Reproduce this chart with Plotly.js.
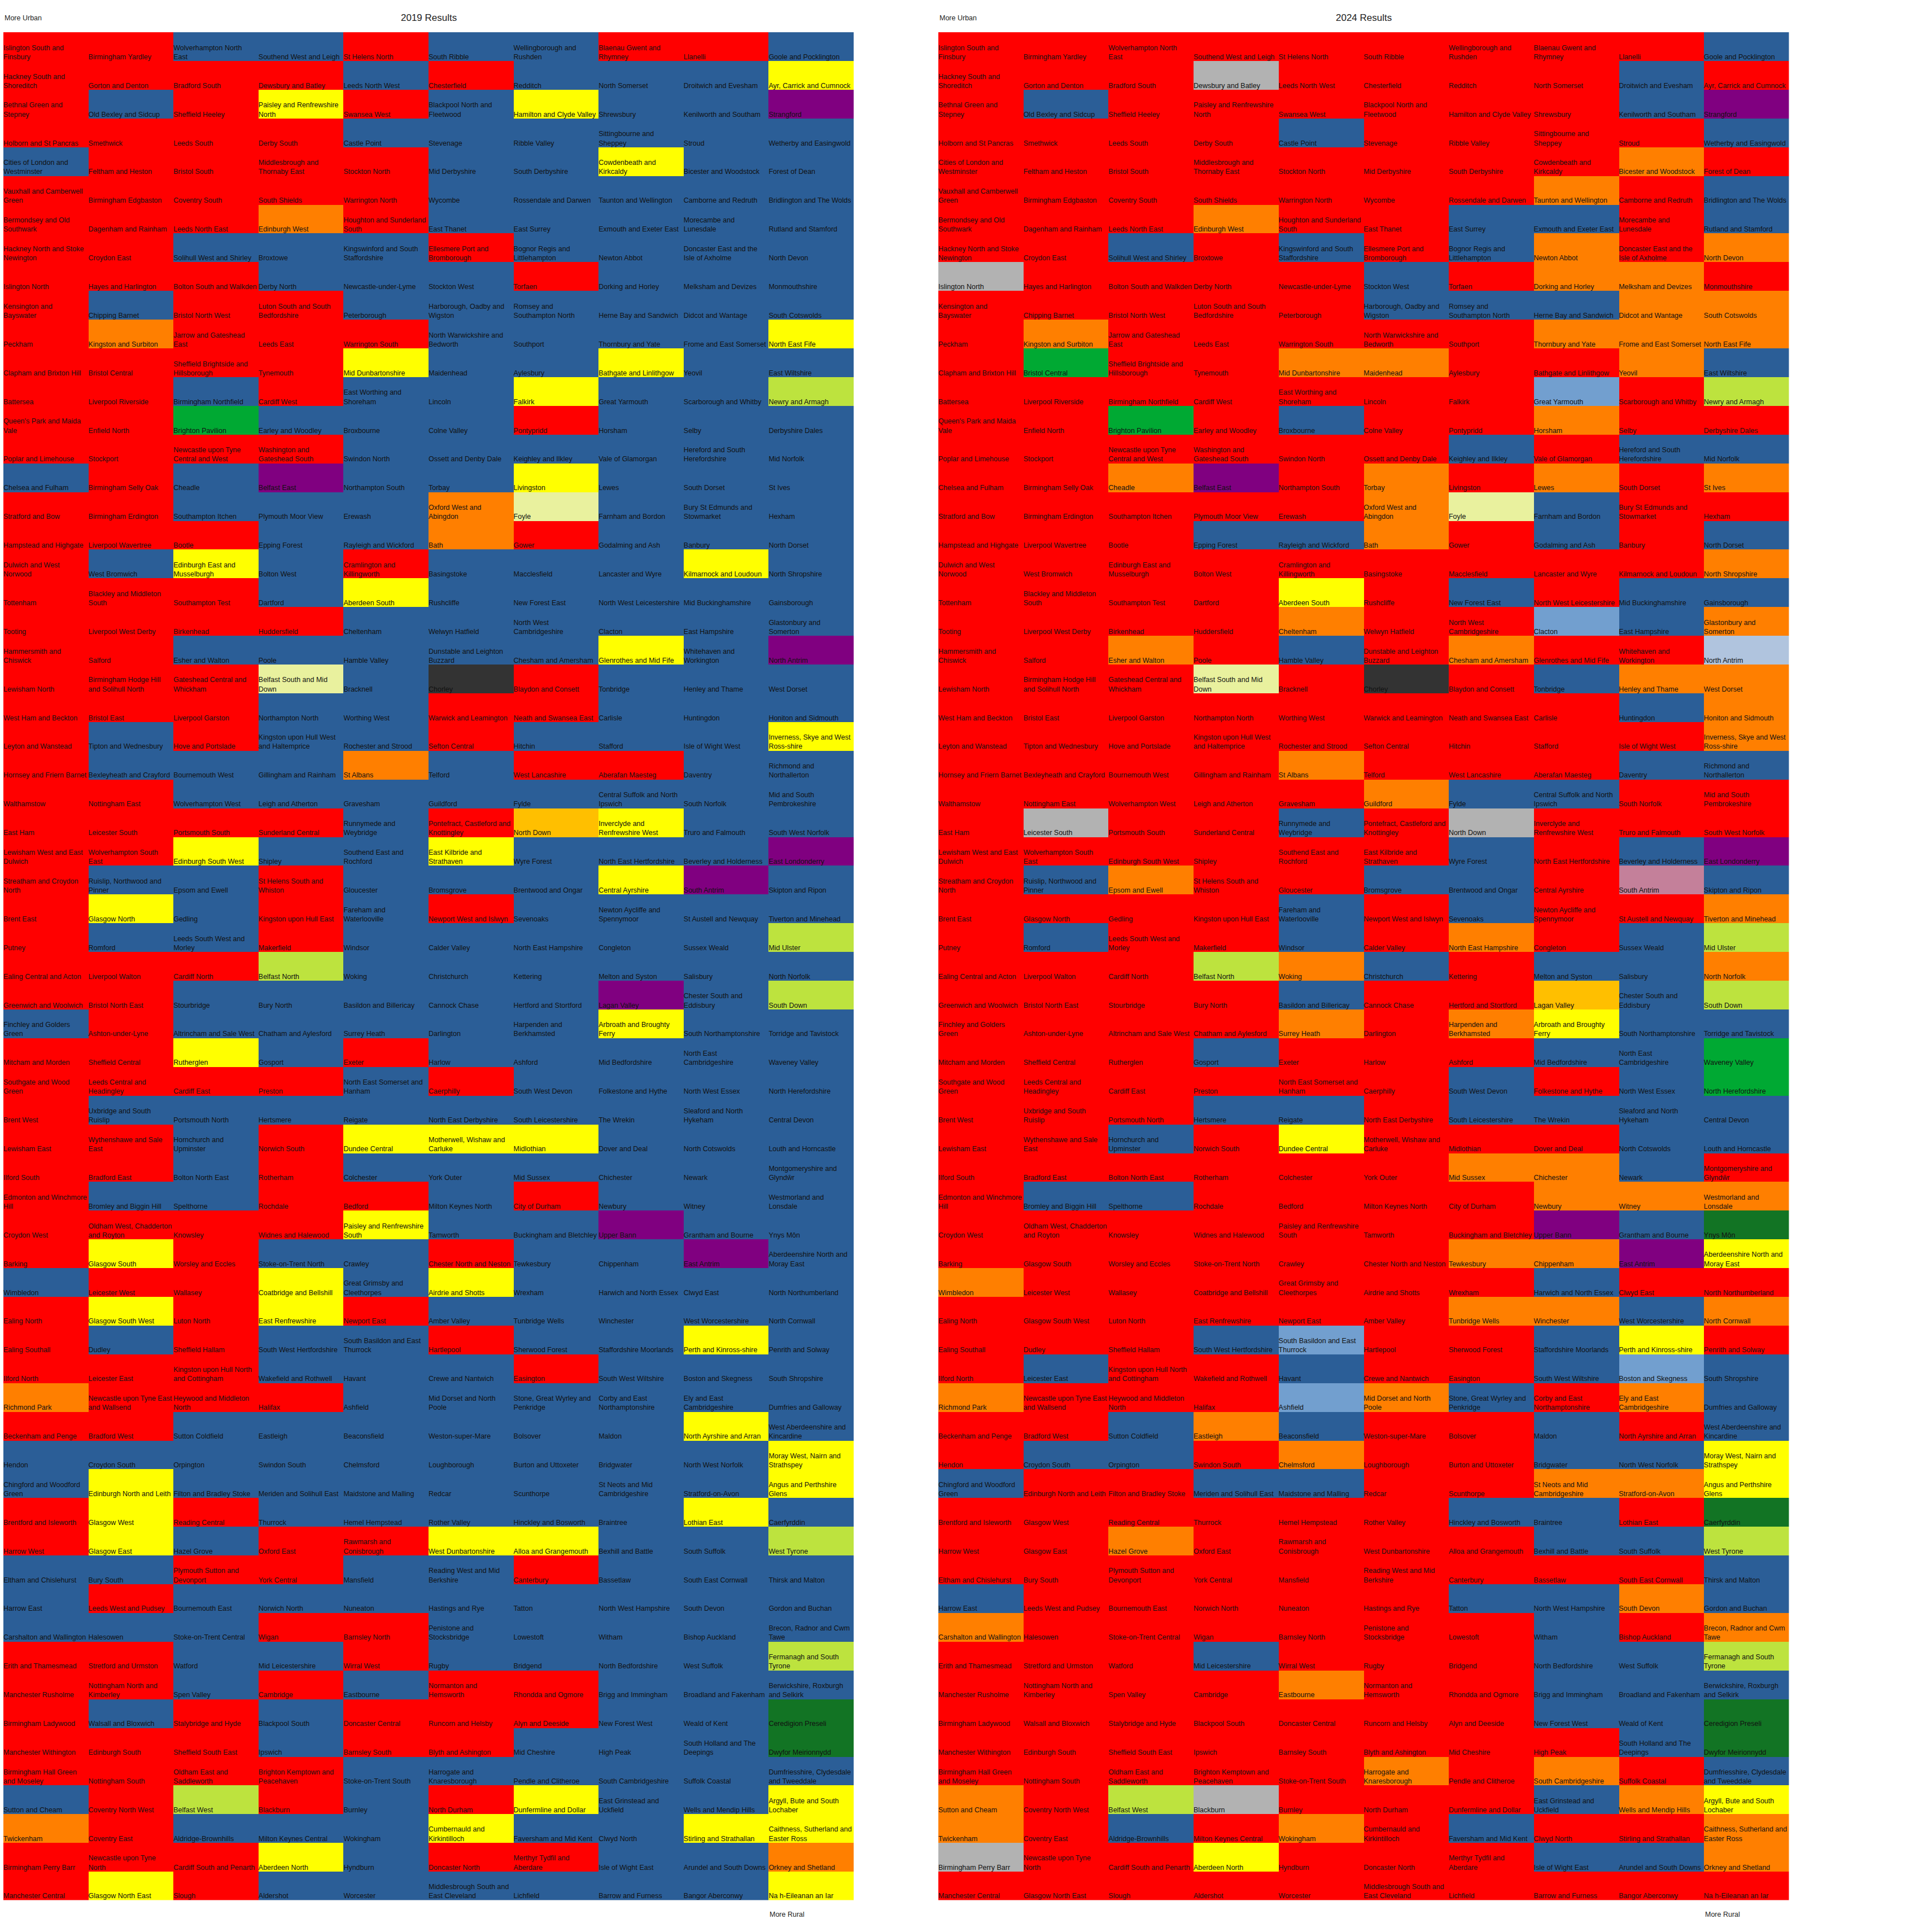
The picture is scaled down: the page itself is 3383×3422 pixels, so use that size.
<!DOCTYPE html>
<html>
<head>
<meta charset="utf-8">
<script src="https://cdn.plot.ly/plotly-3.0.1.min.js"></script>
<style>body{margin:0;background:#fff}</style>
</head>
<body>
<div id="chart"></div>
<script>
// constituencies, row by row, 10 to a row (more urban top left -> more rural bottom right)
const constituencies = [
  "Islington South and Finsbury", "Birmingham Yardley", "Wolverhampton North East", "Southend West and Leigh", "St Helens North", "South Ribble", "Wellingborough and Rushden", "Blaenau Gwent and Rhymney", "Llanelli", "Goole and Pocklington",
  "Hackney South and Shoreditch", "Gorton and Denton", "Bradford South", "Dewsbury and Batley", "Leeds North West", "Chesterfield", "Redditch", "North Somerset", "Droitwich and Evesham", "Ayr, Carrick and Cumnock",
  "Bethnal Green and Stepney", "Old Bexley and Sidcup", "Sheffield Heeley", "Paisley and Renfrewshire North", "Swansea West", "Blackpool North and Fleetwood", "Hamilton and Clyde Valley", "Shrewsbury", "Kenilworth and Southam", "Strangford",
  "Holborn and St Pancras", "Smethwick", "Leeds South", "Derby South", "Castle Point", "Stevenage", "Ribble Valley", "Sittingbourne and Sheppey", "Stroud", "Wetherby and Easingwold",
  "Cities of London and Westminster", "Feltham and Heston", "Bristol South", "Middlesbrough and Thornaby East", "Stockton North", "Mid Derbyshire", "South Derbyshire", "Cowdenbeath and Kirkcaldy", "Bicester and Woodstock", "Forest of Dean",
  "Vauxhall and Camberwell Green", "Birmingham Edgbaston", "Coventry South", "South Shields", "Warrington North", "Wycombe", "Rossendale and Darwen", "Taunton and Wellington", "Camborne and Redruth", "Bridlington and The Wolds",
  "Bermondsey and Old Southwark", "Dagenham and Rainham", "Leeds North East", "Edinburgh West", "Houghton and Sunderland South", "East Thanet", "East Surrey", "Exmouth and Exeter East", "Morecambe and Lunesdale", "Rutland and Stamford",
  "Hackney North and Stoke Newington", "Croydon East", "Solihull West and Shirley", "Broxtowe", "Kingswinford and South Staffordshire", "Ellesmere Port and Bromborough", "Bognor Regis and Littlehampton", "Newton Abbot", "Doncaster East and the Isle of Axholme", "North Devon",
  "Islington North", "Hayes and Harlington", "Bolton South and Walkden", "Derby North", "Newcastle-under-Lyme", "Stockton West", "Torfaen", "Dorking and Horley", "Melksham and Devizes", "Monmouthshire",
  "Kensington and Bayswater", "Chipping Barnet", "Bristol North West", "Luton South and South Bedfordshire", "Peterborough", "Harborough, Oadby and Wigston", "Romsey and Southampton North", "Herne Bay and Sandwich", "Didcot and Wantage", "South Cotswolds",
  "Peckham", "Kingston and Surbiton", "Jarrow and Gateshead East", "Leeds East", "Warrington South", "North Warwickshire and Bedworth", "Southport", "Thornbury and Yate", "Frome and East Somerset", "North East Fife",
  "Clapham and Brixton Hill", "Bristol Central", "Sheffield Brightside and Hillsborough", "Tynemouth", "Mid Dunbartonshire", "Maidenhead", "Aylesbury", "Bathgate and Linlithgow", "Yeovil", "East Wiltshire",
  "Battersea", "Liverpool Riverside", "Birmingham Northfield", "Cardiff West", "East Worthing and Shoreham", "Lincoln", "Falkirk", "Great Yarmouth", "Scarborough and Whitby", "Newry and Armagh",
  "Queen's Park and Maida Vale", "Enfield North", "Brighton Pavilion", "Earley and Woodley", "Broxbourne", "Colne Valley", "Pontypridd", "Horsham", "Selby", "Derbyshire Dales",
  "Poplar and Limehouse", "Stockport", "Newcastle upon Tyne Central and West", "Washington and Gateshead South", "Swindon North", "Ossett and Denby Dale", "Keighley and Ilkley", "Vale of Glamorgan", "Hereford and South Herefordshire", "Mid Norfolk",
  "Chelsea and Fulham", "Birmingham Selly Oak", "Cheadle", "Belfast East", "Northampton South", "Torbay", "Livingston", "Lewes", "South Dorset", "St Ives",
  "Stratford and Bow", "Birmingham Erdington", "Southampton Itchen", "Plymouth Moor View", "Erewash", "Oxford West and Abingdon", "Foyle", "Farnham and Bordon", "Bury St Edmunds and Stowmarket", "Hexham",
  "Hampstead and Highgate", "Liverpool Wavertree", "Bootle", "Epping Forest", "Rayleigh and Wickford", "Bath", "Gower", "Godalming and Ash", "Banbury", "North Dorset",
  "Dulwich and West Norwood", "West Bromwich", "Edinburgh East and Musselburgh", "Bolton West", "Cramlington and Killingworth", "Basingstoke", "Macclesfield", "Lancaster and Wyre", "Kilmarnock and Loudoun", "North Shropshire",
  "Tottenham", "Blackley and Middleton South", "Southampton Test", "Dartford", "Aberdeen South", "Rushcliffe", "New Forest East", "North West Leicestershire", "Mid Buckinghamshire", "Gainsborough",
  "Tooting", "Liverpool West Derby", "Birkenhead", "Huddersfield", "Cheltenham", "Welwyn Hatfield", "North West Cambridgeshire", "Clacton", "East Hampshire", "Glastonbury and Somerton",
  "Hammersmith and Chiswick", "Salford", "Esher and Walton", "Poole", "Hamble Valley", "Dunstable and Leighton Buzzard", "Chesham and Amersham", "Glenrothes and Mid Fife", "Whitehaven and Workington", "North Antrim",
  "Lewisham North", "Birmingham Hodge Hill and Solihull North", "Gateshead Central and Whickham", "Belfast South and Mid Down", "Bracknell", "Chorley", "Blaydon and Consett", "Tonbridge", "Henley and Thame", "West Dorset",
  "West Ham and Beckton", "Bristol East", "Liverpool Garston", "Northampton North", "Worthing West", "Warwick and Leamington", "Neath and Swansea East", "Carlisle", "Huntingdon", "Honiton and Sidmouth",
  "Leyton and Wanstead", "Tipton and Wednesbury", "Hove and Portslade", "Kingston upon Hull West and Haltemprice", "Rochester and Strood", "Sefton Central", "Hitchin", "Stafford", "Isle of Wight West", "Inverness, Skye and West Ross-shire",
  "Hornsey and Friern Barnet", "Bexleyheath and Crayford", "Bournemouth West", "Gillingham and Rainham", "St Albans", "Telford", "West Lancashire", "Aberafan Maesteg", "Daventry", "Richmond and Northallerton",
  "Walthamstow", "Nottingham East", "Wolverhampton West", "Leigh and Atherton", "Gravesham", "Guildford", "Fylde", "Central Suffolk and North Ipswich", "South Norfolk", "Mid and South Pembrokeshire",
  "East Ham", "Leicester South", "Portsmouth South", "Sunderland Central", "Runnymede and Weybridge", "Pontefract, Castleford and Knottingley", "North Down", "Inverclyde and Renfrewshire West", "Truro and Falmouth", "South West Norfolk",
  "Lewisham West and East Dulwich", "Wolverhampton South East", "Edinburgh South West", "Shipley", "Southend East and Rochford", "East Kilbride and Strathaven", "Wyre Forest", "North East Hertfordshire", "Beverley and Holderness", "East Londonderry",
  "Streatham and Croydon North", "Ruislip, Northwood and Pinner", "Epsom and Ewell", "St Helens South and Whiston", "Gloucester", "Bromsgrove", "Brentwood and Ongar", "Central Ayrshire", "South Antrim", "Skipton and Ripon",
  "Brent East", "Glasgow North", "Gedling", "Kingston upon Hull East", "Fareham and Waterlooville", "Newport West and Islwyn", "Sevenoaks", "Newton Aycliffe and Spennymoor", "St Austell and Newquay", "Tiverton and Minehead",
  "Putney", "Romford", "Leeds South West and Morley", "Makerfield", "Windsor", "Calder Valley", "North East Hampshire", "Congleton", "Sussex Weald", "Mid Ulster",
  "Ealing Central and Acton", "Liverpool Walton", "Cardiff North", "Belfast North", "Woking", "Christchurch", "Kettering", "Melton and Syston", "Salisbury", "North Norfolk",
  "Greenwich and Woolwich", "Bristol North East", "Stourbridge", "Bury North", "Basildon and Billericay", "Cannock Chase", "Hertford and Stortford", "Lagan Valley", "Chester South and Eddisbury", "South Down",
  "Finchley and Golders Green", "Ashton-under-Lyne", "Altrincham and Sale West", "Chatham and Aylesford", "Surrey Heath", "Darlington", "Harpenden and Berkhamsted", "Arbroath and Broughty Ferry", "South Northamptonshire", "Torridge and Tavistock",
  "Mitcham and Morden", "Sheffield Central", "Rutherglen", "Gosport", "Exeter", "Harlow", "Ashford", "Mid Bedfordshire", "North East Cambridgeshire", "Waveney Valley",
  "Southgate and Wood Green", "Leeds Central and Headingley", "Cardiff East", "Preston", "North East Somerset and Hanham", "Caerphilly", "South West Devon", "Folkestone and Hythe", "North West Essex", "North Herefordshire",
  "Brent West", "Uxbridge and South Ruislip", "Portsmouth North", "Hertsmere", "Reigate", "North East Derbyshire", "South Leicestershire", "The Wrekin", "Sleaford and North Hykeham", "Central Devon",
  "Lewisham East", "Wythenshawe and Sale East", "Hornchurch and Upminster", "Norwich South", "Dundee Central", "Motherwell, Wishaw and Carluke", "Midlothian", "Dover and Deal", "North Cotswolds", "Louth and Horncastle",
  "Ilford South", "Bradford East", "Bolton North East", "Rotherham", "Colchester", "York Outer", "Mid Sussex", "Chichester", "Newark", "Montgomeryshire and Glyndŵr",
  "Edmonton and Winchmore Hill", "Bromley and Biggin Hill", "Spelthorne", "Rochdale", "Bedford", "Milton Keynes North", "City of Durham", "Newbury", "Witney", "Westmorland and Lonsdale",
  "Croydon West", "Oldham West, Chadderton and Royton", "Knowsley", "Widnes and Halewood", "Paisley and Renfrewshire South", "Tamworth", "Buckingham and Bletchley", "Upper Bann", "Grantham and Bourne", "Ynys Môn",
  "Barking", "Glasgow South", "Worsley and Eccles", "Stoke-on-Trent North", "Crawley", "Chester North and Neston", "Tewkesbury", "Chippenham", "East Antrim", "Aberdeenshire North and Moray East",
  "Wimbledon", "Leicester West", "Wallasey", "Coatbridge and Bellshill", "Great Grimsby and Cleethorpes", "Airdrie and Shotts", "Wrexham", "Harwich and North Essex", "Clwyd East", "North Northumberland",
  "Ealing North", "Glasgow South West", "Luton North", "East Renfrewshire", "Newport East", "Amber Valley", "Tunbridge Wells", "Winchester", "West Worcestershire", "North Cornwall",
  "Ealing Southall", "Dudley", "Sheffield Hallam", "South West Hertfordshire", "South Basildon and East Thurrock", "Hartlepool", "Sherwood Forest", "Staffordshire Moorlands", "Perth and Kinross-shire", "Penrith and Solway",
  "Ilford North", "Leicester East", "Kingston upon Hull North and Cottingham", "Wakefield and Rothwell", "Havant", "Crewe and Nantwich", "Easington", "South West Wiltshire", "Boston and Skegness", "South Shropshire",
  "Richmond Park", "Newcastle upon Tyne East and Wallsend", "Heywood and Middleton North", "Halifax", "Ashfield", "Mid Dorset and North Poole", "Stone, Great Wyrley and Penkridge", "Corby and East Northamptonshire", "Ely and East Cambridgeshire", "Dumfries and Galloway",
  "Beckenham and Penge", "Bradford West", "Sutton Coldfield", "Eastleigh", "Beaconsfield", "Weston-super-Mare", "Bolsover", "Maldon", "North Ayrshire and Arran", "West Aberdeenshire and Kincardine",
  "Hendon", "Croydon South", "Orpington", "Swindon South", "Chelmsford", "Loughborough", "Burton and Uttoxeter", "Bridgwater", "North West Norfolk", "Moray West, Nairn and Strathspey",
  "Chingford and Woodford Green", "Edinburgh North and Leith", "Filton and Bradley Stoke", "Meriden and Solihull East", "Maidstone and Malling", "Redcar", "Scunthorpe", "St Neots and Mid Cambridgeshire", "Stratford-on-Avon", "Angus and Perthshire Glens",
  "Brentford and Isleworth", "Glasgow West", "Reading Central", "Thurrock", "Hemel Hempstead", "Rother Valley", "Hinckley and Bosworth", "Braintree", "Lothian East", "Caerfyrddin",
  "Harrow West", "Glasgow East", "Hazel Grove", "Oxford East", "Rawmarsh and Conisbrough", "West Dunbartonshire", "Alloa and Grangemouth", "Bexhill and Battle", "South Suffolk", "West Tyrone",
  "Eltham and Chislehurst", "Bury South", "Plymouth Sutton and Devonport", "York Central", "Mansfield", "Reading West and Mid Berkshire", "Canterbury", "Bassetlaw", "South East Cornwall", "Thirsk and Malton",
  "Harrow East", "Leeds West and Pudsey", "Bournemouth East", "Norwich North", "Nuneaton", "Hastings and Rye", "Tatton", "North West Hampshire", "South Devon", "Gordon and Buchan",
  "Carshalton and Wallington", "Halesowen", "Stoke-on-Trent Central", "Wigan", "Barnsley North", "Penistone and Stocksbridge", "Lowestoft", "Witham", "Bishop Auckland", "Brecon, Radnor and Cwm Tawe",
  "Erith and Thamesmead", "Stretford and Urmston", "Watford", "Mid Leicestershire", "Wirral West", "Rugby", "Bridgend", "North Bedfordshire", "West Suffolk", "Fermanagh and South Tyrone",
  "Manchester Rusholme", "Nottingham North and Kimberley", "Spen Valley", "Cambridge", "Eastbourne", "Normanton and Hemsworth", "Rhondda and Ogmore", "Brigg and Immingham", "Broadland and Fakenham", "Berwickshire, Roxburgh and Selkirk",
  "Birmingham Ladywood", "Walsall and Bloxwich", "Stalybridge and Hyde", "Blackpool South", "Doncaster Central", "Runcorn and Helsby", "Alyn and Deeside", "New Forest West", "Weald of Kent", "Ceredigion Preseli",
  "Manchester Withington", "Edinburgh South", "Sheffield South East", "Ipswich", "Barnsley South", "Blyth and Ashington", "Mid Cheshire", "High Peak", "South Holland and The Deepings", "Dwyfor Meirionnydd",
  "Birmingham Hall Green and Moseley", "Nottingham South", "Oldham East and Saddleworth", "Brighton Kemptown and Peacehaven", "Stoke-on-Trent South", "Harrogate and Knaresborough", "Pendle and Clitheroe", "South Cambridgeshire", "Suffolk Coastal", "Dumfriesshire, Clydesdale and Tweeddale",
  "Sutton and Cheam", "Coventry North West", "Belfast West", "Blackburn", "Burnley", "North Durham", "Dunfermline and Dollar", "East Grinstead and Uckfield", "Wells and Mendip Hills", "Argyll, Bute and South Lochaber",
  "Twickenham", "Coventry East", "Aldridge-Brownhills", "Milton Keynes Central", "Wokingham", "Cumbernauld and Kirkintilloch", "Faversham and Mid Kent", "Clwyd North", "Stirling and Strathallan", "Caithness, Sutherland and Easter Ross",
  "Birmingham Perry Barr", "Newcastle upon Tyne North", "Cardiff South and Penarth", "Aberdeen North", "Hyndburn", "Doncaster North", "Merthyr Tydfil and Aberdare", "Isle of Wight East", "Arundel and South Downs", "Orkney and Shetland",
  "Manchester Central", "Glasgow North East", "Slough", "Aldershot", "Worcester", "Middlesbrough South and East Cleveland", "Lichfield", "Barrow and Furness", "Bangor Aberconwy", "Na h-Eileanan an Iar"
];

// winner per seat, one string per row, one letter per seat:
// L Lab, C Con, D Lib Dem, S SNP, G Green, P Plaid, F Sinn Féin, U DUP, Q SDLP,
// A Alliance, K Speaker, I Independent, R Reform, T TUV, O UUP
const results2019 = [
  "LLCCLCCLLC", "LLLLCLCCCS", "LCLSLCSCCU", "LLLLCCCCCC", "CLLLLCCSCC",
  "LLLLLCCCCC", "LLLDLCCCCC", "LLCCCLCCCC", "LLLCCCLCCC", "LCLLCCCCCC",
  "LDLLLCCCCS", "LLLLSCCSCC", "LLCLCCSCCF", "LLGCCCLCCC", "LLLLCCCCCC",
  "CLCUCCSCCC", "LLCCCDQCCC", "LLLCCDLCCC", "LCSCLCCCSC", "LLLCSCCCCC",
  "LLLLCCCCCC", "LLCCCCCSCU", "LLLQCKLCCC", "LLLCCLLCCC", "LCLCCLCCCS",
  "LCCCDCLLCC", "LLCCCCCCCC", "LLLLCLASCC", "LLSCCSCCCU", "LCCLCCCSUC",
  "LSCLCLCCCC", "LCCLCCCCCF", "LLLFCCCCCC", "LLCCCCCUCF", "CLCCCCCSCC",
  "LLSCLCCCCC", "LLLLCLCCCC", "LCCCCCCCCC", "LLCLSSSCCC", "LLCLCCCCCC",
  "LCCLLCLCCC", "LLLLSCCUCC", "LSLCCLCCUC", "CLLSCSCCCC", "LSLSLCCCCC",
  "LCLCCLCCSC", "LLLCCCLCCC", "DLLLCCCCCC", "LLCCCCCCSC", "CCCCCCCCCS",
  "CSCCCCCCCS", "LSLCCCCCSC", "LSCLLSSCCF", "CCLLCCLCCC", "CLCCCCCCCC",
  "CCCLLCCCCC", "LLCCLCCCCF", "LLCLCLLCCC", "LCLCLLLCCP", "LLLCLLCCCP",
  "LLLLCCCCCC", "CLFLCLSCCS", "DLCCCSCCSS", "LLLSCLLCCD", "LSLCCCCCCS"
];
const results2024 = [
  "LLLLLLLLLC", "LLLILLLLCL", "LCLLLLLLCU", "LLLLCLLLLC", "LLLLLLLLDL",
  "LLLLLLLDLC", "LLLDLLCCLC", "LLCLCLCDLD", "ILLLLCLDDL", "LLLLLCCCDD",
  "LDLLLLLDDD", "LGLLDDLLDC", "LLLLLLLRLF", "LLGLCLLDLL", "LLLLLLCLCC",
  "LLDULDLDLD", "LLLLLDQCLL", "LLLCCDLCLC", "LLLLLLLLLD", "LLLLSLCLCC",
  "LLLLDLLRCD", "LLDLCLDLLT", "LLLQLKLCDD", "LLLLLLLLCD", "LLLLLLLLLD",
  "LLLLDLLLCC", "LLLLLDCCLL", "LILLCLILLL", "LLLLLLCLCU", "LCDLLCCLOC",
  "LLLLCLCLLD", "LCLLCLDLCF", "LLLFDCLCCD", "LLLLCLLACF", "LLLLDLDSCC",
  "LLLCLLLCCG", "LLLLLLCLCG", "LLLCCLCCCC", "LLCLSLLLCC", "LLLLLLDDCL",
  "LCCLLLLDDD", "LLLLLLLUCP", "LLLLLLDDUS", "DLLLLLLCLL", "LLLLLLDDCD",
  "LLLCRLLCSL", "LCLLCLLCRC", "DLLLRDCLDC", "LLCDCLLCLC", "LCCLDLLCCS",
  "CLLCCLLDDS", "LLLLLLCCLP", "LLDLLLLCCF", "LLLLLLLLLC", "CLLLLLCCDC",
  "DLLLLLLCLD", "LLLCLLLCCF", "LLLLDLLCCC", "LLLLLLLCCP", "LLLLLLLLCP",
  "LLLLLDLDLC", "DLFILLLCDS", "DLCLDLCLLD", "ILLSLLLCCD", "LLLLLLLLLL"
];

const partyCodes   = ['C', 'L', 'D', 'S', 'G', 'P', 'F', 'U', 'Q', 'A', 'K', 'I', 'R', 'T', 'O'];
const partyColours = ['#2b5e97', '#ff0000', '#ff7f00', '#ffff00', '#00a933', '#127424', '#bde33e',
                      '#800080', '#e9f19e', '#ffbf00', '#333333', '#b2b2b2', '#729fcf', '#b0c4de', '#c4809a'];

const NCOL = 10;
const NROW = results2019.length;
const FONT = "'Liberation Sans', Arial, sans-serif";
const CELL_FONT = 12.5;

// wrap long names onto two lines, measured like the original (about one cell wide)
const ctx = document.createElement('canvas').getContext('2d');
ctx.font = CELL_FONT + "px 'Liberation Sans', Arial";
function wrap(name, maxW) {
    const lines = [];
    let cur = '';
    name.split(' ').forEach(w => {
        const t = cur ? cur + ' ' + w : w;
        if (cur && ctx.measureText(t).width > maxW) { lines.push(cur); cur = w; }
        else cur = t;
    });
    lines.push(cur);
    return lines.join('<br>');
}

const n = partyCodes.length;
const colorscale = [];
partyColours.forEach((c, k) => { colorscale.push([k / n, c]); colorscale.push([(k + 1) / n, c]); });

const toZ = rows => rows.map(r => r.split('').map(c => partyCodes.indexOf(c)));
const cols = [...Array(NCOL).keys()];
const rows = [...Array(NROW).keys()];

const labelX = constituencies.map((_, i) => (i % NCOL) - 0.5);
const labelY = constituencies.map((_, i) => Math.floor(i / NCOL) + 0.5);
const labels = constituencies.map(nm => wrap(nm, 148));

function panel(results, xa, ya) {
    return [
        {
            type: 'heatmap', z: toZ(results), x: cols, y: rows,
            zmin: -0.5, zmax: n - 0.5, colorscale: colorscale,
            showscale: false, hoverinfo: 'skip', xaxis: xa, yaxis: ya
        },
        {
            type: 'scatter', mode: 'text', x: labelX, y: labelY, text: labels,
            textposition: 'top right',
            textfont: { family: FONT, size: CELL_FONT, color: '#111' },
            cliponaxis: false, hoverinfo: 'skip', showlegend: false, xaxis: xa, yaxis: ya
        }
    ];
}

const W = 3383, H = 3422;
const axX = dom => ({
    domain: dom, range: [-0.5, NCOL - 0.5], showgrid: false, zeroline: false,
    showticklabels: false, ticks: '', showline: false, fixedrange: true
});
const axY = anchor => ({
    domain: [56.4 / H, 1 - 57.1 / H], range: [NROW - 0.5, -0.5], anchor: anchor,
    showgrid: false, zeroline: false, showticklabels: false, ticks: '', showline: false, fixedrange: true
});

const topY = 1 - 31.5 / H;
const botY = 1 - 3390.5 / H;
const textFont = { family: FONT, size: 12.5, color: '#222' };

function labelsFor(xa, title) {
    return [
        { xref: xa + ' domain', yref: 'paper', x: 0.5, y: topY, xanchor: 'center', yanchor: 'middle',
          text: title, showarrow: false, font: { family: FONT, size: 17, color: '#222' } },
        { xref: xa + ' domain', yref: 'paper', x: 0, y: topY, xanchor: 'left', yanchor: 'middle',
          text: 'More Urban', showarrow: false, font: textFont },
        { xref: xa, yref: 'paper', x: NCOL - 1.5, y: botY, xanchor: 'left', yanchor: 'middle',
          text: 'More Rural', showarrow: false, font: textFont }
    ];
}

const data = panel(results2019, 'x', 'y').concat(panel(results2024, 'x2', 'y2'));

const layout = {
    width: W, height: H,
    margin: { l: 0, r: 0, t: 0, b: 0 },
    paper_bgcolor: '#fff', plot_bgcolor: '#fff',
    showlegend: false, hovermode: false,
    xaxis: axX([6 / W, 1512 / W]),
    yaxis: axY('x'),
    xaxis2: axX([1662 / W, 3168.5 / W]),
    yaxis2: axY('x2'),
    annotations: labelsFor('x', '2019 Results').concat(labelsFor('x2', '2024 Results'))
};

Plotly.newPlot('chart', data, layout, { displayModeBar: false });
</script>
</body>
</html>
